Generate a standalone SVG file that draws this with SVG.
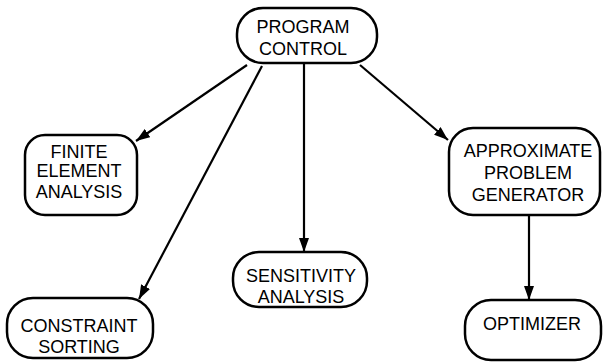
<svg xmlns="http://www.w3.org/2000/svg" width="604" height="363" viewBox="0 0 604 363">
<style>
.box{fill:#fff;stroke:#000;stroke-width:2.5}
.t{font-family:"Liberation Sans",Arial,sans-serif;font-size:18px;text-anchor:middle;fill:#000}
.c{stroke:#000;stroke-width:2.2;fill:none;marker-end:url(#ah)}
</style>
<defs>
<marker id="ah" viewBox="0 0 14 10" refX="14" refY="5" markerWidth="14" markerHeight="10" markerUnits="userSpaceOnUse" orient="auto">
<path d="M0,0 L14,5 L0,10 Z" fill="#000"/>
</marker>
</defs>
<rect width="604" height="363" fill="#fff"/>
<g id="connectors">
<line class="c" x1="247" y1="65" x2="136" y2="141"/>
<line class="c" x1="262" y1="66" x2="139" y2="299"/>
<line class="c" x1="304" y1="63" x2="304" y2="252"/>
<line class="c" x1="360" y1="65" x2="448" y2="140"/>
<line class="c" x1="529" y1="215" x2="529" y2="300"/>
</g>
<g id="program-control">
<rect class="box" x="237" y="8" width="140" height="55" rx="26"/>
<text class="t" x="303" y="33">PROGRAM</text>
<text class="t" x="303" y="55">CONTROL</text>
</g>
<g id="finite-element-analysis">
<rect class="box" x="25" y="135" width="112" height="80" rx="20"/>
<text class="t" x="79" y="158">FINITE</text>
<text class="t" x="79" y="177">ELEMENT</text>
<text class="t" x="79" y="198">ANALYSIS</text>
</g>
<g id="approximate-problem-generator">
<rect class="box" x="449" y="128" width="151" height="87" rx="24"/>
<text class="t" x="528" y="157">APPROXIMATE</text>
<text class="t" x="528" y="179">PROBLEM</text>
<text class="t" x="528" y="201">GENERATOR</text>
</g>
<g id="sensitivity-analysis">
<rect class="box" x="233" y="252" width="134" height="55" rx="26"/>
<text class="t" x="301" y="282">SENSITIVITY</text>
<text class="t" x="301" y="303">ANALYSIS</text>
</g>
<g id="constraint-sorting">
<rect class="box" x="7" y="298" width="146" height="60" rx="26"/>
<text class="t" x="79" y="332">CONSTRAINT</text>
<text class="t" x="79" y="353">SORTING</text>
</g>
<g id="optimizer">
<rect class="box" x="465" y="300" width="136" height="60" rx="26"/>
<text class="t" x="532" y="330">OPTIMIZER</text>
</g>
</svg>
